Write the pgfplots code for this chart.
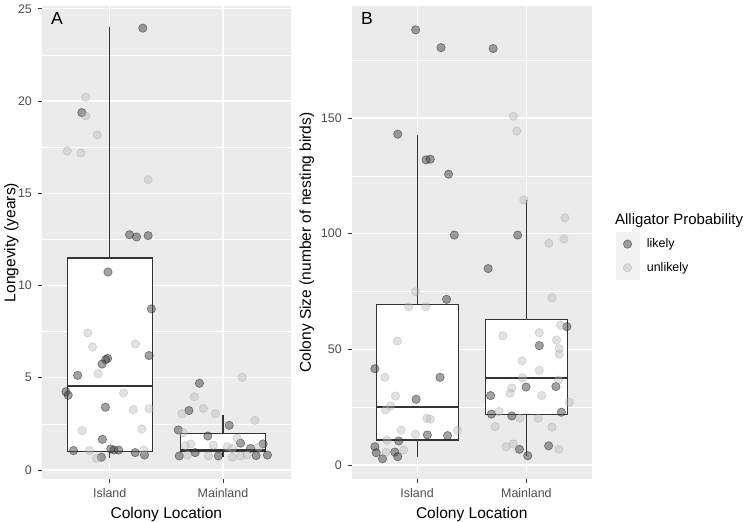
\documentclass[border=0pt]{standalone}
\usepackage{pgfplots}
\pgfplotsset{compat=1.18}
\usepgfplotslibrary{statistics}
\usepackage{fontspec}
\setmainfont{Liberation Sans}
\definecolor{panelbg}{HTML}{EBEBEB}
\definecolor{keybg}{HTML}{F2F2F2}
\definecolor{tickc}{HTML}{4D4D4D}
\definecolor{boxc}{HTML}{333333}

\pgfplotstableread{
x y
1.292 23.95
0.754 19.37
1.175 12.75
1.237 12.63
1.339 12.70
0.985 10.73
1.368 8.73
1.348 6.20
0.982 6.05
0.965 5.98
0.933 5.74
0.717 5.13
0.614 4.24
0.634 4.05
0.962 3.40
0.936 1.66
0.681 1.05
1.009 1.14
1.038 1.08
1.079 1.08
1.225 0.94
1.307 0.81
0.927 0.69
1.792 4.70
1.699 3.22
2.055 2.42
1.605 2.17
1.866 1.84
2.155 1.45
2.354 1.41
2.243 1.17
1.614 0.76
1.754 0.94
1.959 0.76
2.292 0.78
2.392 0.81
}\Alikely

\pgfplotstableread{
x y
0.787 20.20
0.789 19.19
0.889 18.16
0.626 17.29
0.746 17.18
1.339 15.73
0.807 7.43
0.848 6.67
1.228 6.83
0.898 5.22
1.123 4.17
1.208 3.27
1.348 3.32
0.757 2.13
1.283 2.22
0.822 1.05
1.301 1.08
0.883 0.63
2.170 5.02
1.746 3.97
1.827 3.34
1.638 3.05
1.933 3.05
2.281 2.69
1.649 2.02
2.126 1.72
1.717 1.41
1.667 1.32
1.915 1.34
2.038 1.26
2.082 1.17
2.316 1.23
1.871 0.76
2.082 0.69
2.155 0.76
2.213 0.81
1.687 0.81
}\Aunlikely

\pgfplotstableread{
x y
0.987 188.1
1.219 180.4
0.823 143.0
1.082 131.9
1.121 132.2
1.288 125.7
1.340 99.4
1.270 71.6
0.614 41.6
1.210 37.9
0.991 28.4
1.094 13.0
1.279 12.7
0.832 10.4
0.614 7.9
0.626 5.3
0.796 5.6
0.684 2.7
0.823 3.6
1.696 180.0
1.920 99.4
1.650 84.9
2.370 59.8
2.118 51.6
1.997 33.7
2.270 33.9
1.672 30.0
1.680 22.0
2.320 22.8
1.866 21.2
1.936 6.8
2.012 4.0
2.203 8.3
}\Blikely

\pgfplotstableread{
x y
0.987 74.9
0.923 68.4
1.079 68.4
0.820 53.6
0.705 37.9
0.802 29.8
0.757 25.5
0.711 23.8
1.090 20.2
1.120 19.8
0.854 15.1
1.370 15.0
0.985 13.3
0.726 10.7
0.714 5.5
0.878 6.5
1.881 150.7
1.911 144.4
1.976 114.6
2.352 106.8
2.343 97.7
2.206 95.8
2.234 72.3
2.313 60.4
1.784 55.8
2.118 57.2
2.276 54.0
2.300 50.3
2.300 47.9
1.960 45.0
2.118 40.9
1.966 37.7
2.294 36.7
1.866 33.3
1.850 31.0
2.140 30.0
2.392 27.1
1.750 23.1
1.940 20.2
2.108 20.2
1.714 16.6
2.234 16.3
1.815 7.9
1.880 9.1
2.297 6.8
}\Bunlikely

\pgfplotsset{
  gg/.style={
    scale only axis,
    height=473bp,
    xmin=0.4, xmax=2.6,
    xtick={1,2}, xticklabels={Island,Mainland},
    axis background/.style={fill=panelbg},
    axis line style={draw=none},
    tick align=outside, tick pos=left,
    major tick length=3.8bp, minor tick length=0pt,
    major tick style={color=boxc, line width=0.8bp},
    xmajorgrids, ymajorgrids, yminorgrids,
    major grid style={white, line width=1.1bp},
    minor grid style={white, line width=0.55bp},
    tick label style={font=\fontsize{12.5}{14}\selectfont, color=tickc},
    xticklabel style={yshift=-2bp},
    yticklabel style={xshift=-2.5bp},
    label style={font=\fontsize{15.6}{18}\selectfont},
    xlabel style={yshift=-3bp},
    /pgf/number format/assume math mode=true,
    xlabel={Colony Location},
    boxplot/draw direction=y,
    boxplot/every median/.style={line width=2.1bp},
  },
  bx/.style={forget plot, draw=boxc, fill=white, line width=1.1bp, solid, mark=none},
  likelypt/.style={only marks, mark=*, mark size=4.2bp,
    mark options={fill=black!72, draw=black!90, fill opacity=0.5, draw opacity=0.5, line width=0.6bp}},
  unlikelypt/.style={only marks, mark=*, mark size=4.2bp,
    mark options={fill=black!28, draw=black!40, fill opacity=0.4, draw opacity=0.35, line width=0.6bp}},
}

\begin{document}
\begin{tikzpicture}
\path[use as bounding box] (0,0) rectangle (749bp,522bp);

\begin{axis}[gg, at={(41.7bp,43bp)}, anchor=south west, width=249.3bp,
  ymin=-0.49, ymax=25.15, ytick={0,5,10,15,20,25}, minor ytick={2.5,7.5,12.5,17.5,22.5},
  ylabel={Longevity (years)}, ylabel shift=-7.5bp]
\addplot[bx, boxplot prepared={lower whisker=0.63, lower quartile=1.01, median=4.57,
  upper quartile=11.49, upper whisker=24.0, draw position=1, box extend=0.75, whisker extend=0}]
  coordinates {};
\addplot[bx, boxplot prepared={lower whisker=0.69, lower quartile=0.98, median=1.06,
  upper quartile=2.0, upper whisker=3.0, draw position=2, box extend=0.75, whisker extend=0}]
  coordinates {};
\addplot[likelypt] table {\Alikely};
\addplot[unlikelypt] table {\Aunlikely};
\node[anchor=base west, inner sep=0, font=\fontsize{17.6}{20}\selectfont] at (rel axis cs:0.0373,0.9614) {A};
\end{axis}

\begin{axis}[gg, at={(351.5bp,43bp)}, anchor=south west, width=240.5bp, clip=false,
  ymin=-6.05, ymax=198.4, ytick={0,50,100,150}, minor ytick={25,75,125,175},
  ylabel={Colony Size (number of nesting birds)},
  legend style={at={(1.0985,0.5217)}, anchor=north west, draw=none, fill=none,
    row sep=0pt, column sep=0pt, inner sep=0pt, outer sep=0pt,
    font=\fontsize{12.5}{14}\selectfont,
    nodes={inner xsep=7.5bp, inner ysep=0pt}},
  legend cell align=left,
  legend image code/.code={\fill[keybg] (0bp,-11.65bp) rectangle (23.3bp,11.65bp);
    \draw[#1] plot coordinates {(11.65bp,0bp)};}]
\addplot[bx, boxplot prepared={lower whisker=3.6, lower quartile=10.8, median=25.1,
  upper quartile=69.5, upper whisker=142.7, draw position=1, box extend=0.75, whisker extend=0}]
  coordinates {};
\addplot[bx, boxplot prepared={lower whisker=3.9, lower quartile=21.9, median=37.7,
  upper quartile=63.0, upper whisker=114.6, draw position=2, box extend=0.75, whisker extend=0}]
  coordinates {};
\addplot[likelypt] table {\Blikely};
\addlegendentry{likely}
\addplot[unlikelypt] table {\Bunlikely};
\addlegendentry{unlikely}
\node[anchor=base west, inner sep=0, font=\fontsize{17.6}{20}\selectfont] at (rel axis cs:0.0395,0.9614) {B};
\node[anchor=base west, inner sep=0, font=\fontsize{15.0}{18}\selectfont] at (rel axis cs:1.0956,0.539) {Alligator Probability};
\end{axis}
\end{tikzpicture}
\end{document}
